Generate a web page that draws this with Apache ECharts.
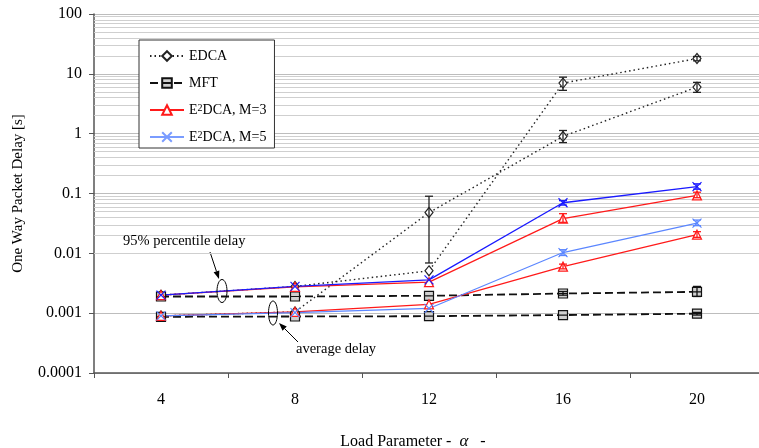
<!DOCTYPE html>
<html>
<head>
<meta charset="utf-8">
<script src="https://cdn.jsdelivr.net/npm/echarts@6/dist/echarts.min.js"></script>
<style>
  html, body { margin: 0; padding: 0; background: #fff; }
  #chart { width: 759px; height: 448px; }
</style>
</head>
<body>
<div id="chart"></div>
<script>
// Load parameter (alpha) categories
const categories = ['4', '8', '12', '16', '20'];

// One-way packet delay [s]: 95% percentile and average for each scheme
const edcaP95  = [0.0020, 0.0028, 0.0051, 7.0, 18];
const edcaMean = [0.0009, 0.00105, 0.048, 0.90, 6.0];
const mftP95   = [0.0019, 0.0019, 0.00195, 0.00213, 0.00227];
const mftMean  = [0.00087, 0.00088, 0.00089, 0.00093, 0.00098];
const m3P95    = [0.0020, 0.00275, 0.0033, 0.038, 0.093];
const m3Mean   = [0.0009, 0.00105, 0.0014, 0.0060, 0.0205];
const m5P95    = [0.0020, 0.0028, 0.0036, 0.070, 0.130];
const m5Mean   = [0.0009, 0.00102, 0.0012, 0.0103, 0.032];

// Confidence intervals [low, high] per category (null = not drawn)
const edcaP95Err  = [null, null, null, [5.3, 8.8], [16.5, 19.5]];
const edcaMeanErr = [null, null, [0.0069, 0.090], [0.71, 1.13], [4.9, 7.2]];
const mftP95Err   = [null, null, null, [0.0020, 0.0023], [0.0019, 0.0028]];
const mftMeanErr  = [null, null, null, null, [0.00093, 0.00103]];
const m3P95Err    = [null, null, null, [0.033, 0.046], [0.085, 0.105]];
const m3MeanErr   = [null, null, null, [0.0055, 0.0066], [0.0185, 0.023]];
const m5P95Err    = [null, null, null, [0.064, 0.076], [0.118, 0.145]];
const m5MeanErr   = [null, null, null, [0.0092, 0.0115], [0.029, 0.036]];

// Y axis range (log scale)
const yMin = 0.0001;
const yMax = 100;

const FONT = 'Liberation Serif';
const C_EDCA = '#222222';
const C_MFT = '#111111';
const C_M3 = '#ff1a1a';
const C_M5_P95 = '#1a1aff';
const C_M5_MEAN = '#5b86ff';

const NAME_EDCA = 'EDCA';
const NAME_MFT = 'MFT';
const NAME_M3 = 'E2DCA, M=3';
const NAME_M5 = 'E2DCA, M=5';

// Light minor grid lines at 2..9 x 10^k inside each decade
const minorGrid = [];
for (let e = Math.log10(yMin); e < Math.log10(yMax); e++) {
  for (let m = 2; m <= 9; m++) minorGrid.push({ yAxis: m * Math.pow(10, e) });
}

const SYM_SQUARE = 'path://M0,0H10V10H0Z M0,5H10';
const SYM_CROSS = 'path://M0,0L10,10M10,0L0,10';

function lineSeries(name, data, color, lineType, width, symbol, symbolSize, fill) {
  return {
    type: 'line', name: name, data: data,
    symbol: symbol, symbolSize: symbolSize, showSymbol: true,
    lineStyle: { color: color, width: width, type: lineType },
    itemStyle: { color: fill, borderColor: color, borderWidth: 1.2 },
    emphasis: { disabled: true },
    z: 3
  };
}

function errSeries(name, err, color) {
  const data = [];
  err.forEach(function (r, i) { if (r) data.push([i, r[0], r[1]]); });
  return {
    type: 'custom', name: name, data: data,
    encode: { x: 0, y: [1, 2] },
    z: 4, silent: true,
    renderItem: function (params, api) {
      const lo = api.coord([api.value(0), api.value(1)]);
      const hi = api.coord([api.value(0), api.value(2)]);
      const w = 4;
      const st = { stroke: color, lineWidth: 1.3 };
      return {
        type: 'group',
        children: [
          { type: 'line', shape: { x1: lo[0], y1: lo[1], x2: hi[0], y2: hi[1] }, style: st },
          { type: 'line', shape: { x1: lo[0] - w, y1: lo[1], x2: lo[0] + w, y2: lo[1] }, style: st },
          { type: 'line', shape: { x1: hi[0] - w, y1: hi[1], x2: hi[0] + w, y2: hi[1] }, style: st }
        ]
      };
    }
  };
}

// Annotation arrow: shaft plus filled head at (x2, y2)
function arrow(x1, y1, x2, y2) {
  const a = Math.atan2(y2 - y1, x2 - x1);
  const L = 8, W = 3;
  const bx = x2 - L * Math.cos(a), by = y2 - L * Math.sin(a);
  const px = -Math.sin(a) * W, py = Math.cos(a) * W;
  return [
    { type: 'line', shape: { x1: x1, y1: y1, x2: bx, y2: by }, style: { stroke: '#000', lineWidth: 1 } },
    { type: 'polygon', shape: { points: [[x2, y2], [bx + px, by + py], [bx - px, by - py]] }, style: { fill: '#000' } }
  ];
}

const chart = echarts.init(document.getElementById('chart'), null, { renderer: 'canvas' });

const option = {
  animation: false,
  backgroundColor: '#fff',
  textStyle: { fontFamily: FONT },
  grid: { left: 94, top: 14, width: 670, height: 359, containLabel: false, outerBoundsMode: 'none' },
  xAxis: {
    type: 'category', data: categories, boundaryGap: true,
    axisLine: { lineStyle: { color: '#555', width: 1.5 } },
    axisTick: { show: true, length: 5, lineStyle: { color: '#555', width: 1 } },
    axisLabel: { color: '#000', fontFamily: FONT, fontSize: 16, margin: 19 },
    splitLine: { show: false },
    name: 'Load Parameter -  {a|α}   -',
    nameLocation: 'middle', nameGap: 60,
    nameTextStyle: {
      color: '#000', fontFamily: FONT, fontSize: 16, padding: [0, 32, 0, 0],
      rich: { a: { fontFamily: FONT, fontSize: 17, fontStyle: 'italic', color: '#000' } }
    }
  },
  yAxis: {
    type: 'log', logBase: 10, min: yMin, max: yMax, splitNumber: 6,
    axisLine: { show: true, lineStyle: { color: '#555', width: 1.5 } },
    axisTick: { show: true, length: 5, lineStyle: { color: '#555', width: 1 } },
    axisLabel: {
      color: '#000', fontFamily: FONT, fontSize: 16, margin: 12,
      formatter: function (v) { return String(+v.toPrecision(6)); }
    },
    splitLine: { show: true, lineStyle: { color: '#bdbdbd', width: 1.2 } },
    name: 'One Way Packet Delay [s]',
    nameLocation: 'middle', nameGap: 68,
    nameTextStyle: { color: '#000', fontFamily: FONT, fontSize: 15 }
  },
  legend: {
    orient: 'vertical', left: 139, top: 40, z: 10,
    data: [
      { name: NAME_EDCA },
      { name: NAME_MFT },
      { name: NAME_M3 },
      { name: NAME_M5, lineStyle: { color: '#7a9cff' }, itemStyle: { color: '#7a9cff', borderColor: '#7a9cff' } }
    ],
    itemWidth: 34, itemHeight: 12, itemGap: 13,
    padding: [9, 8, 4, 10],
    backgroundColor: '#fff', borderColor: '#333', borderWidth: 1,
    selectedMode: false,
    formatter: function (name) {
      if (name.indexOf('E2DCA') === 0) return 'E{sup|2}' + name.slice(2);
      return name;
    },
    textStyle: {
      fontFamily: FONT, fontSize: 14, color: '#000', lineHeight: 14,
      rich: { sup: { fontFamily: FONT, fontSize: 10, color: '#000', verticalAlign: 'top', lineHeight: 4 } }
    }
  },
  series: [
    {
      type: 'line', name: 'grid', data: [], silent: true, z: 1,
      markLine: {
        silent: true, symbol: 'none', animation: false, z: 1,
        label: { show: false },
        lineStyle: { color: '#cfcfcf', width: 1.2, type: 'solid' },
        data: minorGrid
      }
    },
    lineSeries(NAME_EDCA, edcaP95, C_EDCA, [1.5, 3], 1.4, 'diamond', [8, 10], '#fff'),
    lineSeries(NAME_EDCA, edcaMean, C_EDCA, [1.5, 3], 1.4, 'diamond', [8, 10], '#fff'),
    lineSeries(NAME_MFT, mftP95, C_MFT, [8, 4], 1.8, SYM_SQUARE, 9, '#d0d0d0'),
    lineSeries(NAME_MFT, mftMean, C_MFT, [8, 4], 1.8, SYM_SQUARE, 9, '#d0d0d0'),
    lineSeries(NAME_M3, m3P95, C_M3, 'solid', 1.2, 'triangle', 9, '#fff'),
    lineSeries(NAME_M3, m3Mean, C_M3, 'solid', 1.2, 'triangle', 9, '#fff'),
    lineSeries(NAME_M5, m5P95, C_M5_P95, 'solid', 1.3, SYM_CROSS, 9, 'none'),
    lineSeries(NAME_M5, m5Mean, C_M5_MEAN, 'solid', 1.2, SYM_CROSS, 9, 'none'),
    errSeries('edcaP95Err', edcaP95Err, C_EDCA),
    errSeries('edcaMeanErr', edcaMeanErr, C_EDCA),
    errSeries('mftP95Err', mftP95Err, C_MFT),
    errSeries('mftMeanErr', mftMeanErr, C_MFT),
    errSeries('m3P95Err', m3P95Err, C_M3),
    errSeries('m3MeanErr', m3MeanErr, C_M3),
    errSeries('m5P95Err', m5P95Err, C_M5_P95),
    errSeries('m5MeanErr', m5MeanErr, C_M5_MEAN)
  ],
  graphic: {
    elements: [
      { type: 'text', left: 123, top: 234, z: 10,
        style: { text: '95% percentile delay', fontFamily: FONT, fontSize: 14.5, fill: '#000' } },
      { type: 'group', z: 10, children: arrow(210, 252, 219, 279) },
      { type: 'ellipse', z: 10, shape: { cx: 222, cy: 291, rx: 5, ry: 11.5 },
        style: { fill: 'none', stroke: '#000', lineWidth: 1 } },
      { type: 'text', left: 296, top: 342, z: 10,
        style: { text: 'average delay', fontFamily: FONT, fontSize: 14.5, fill: '#000' } },
      { type: 'group', z: 10, children: arrow(298, 342, 279, 323) },
      { type: 'ellipse', z: 10, shape: { cx: 273, cy: 313, rx: 4.5, ry: 12 },
        style: { fill: 'none', stroke: '#000', lineWidth: 1 } }
    ]
  }
};

chart.setOption(option);
</script>
</body>
</html>
